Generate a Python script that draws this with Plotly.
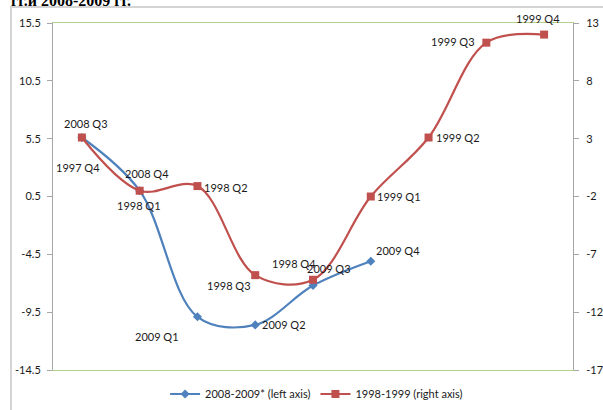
import plotly.graph_objects as go

# ---- data ----
quarters_0809 = ["2008 Q3", "2008 Q4", "2009 Q1", "2009 Q2", "2009 Q3", "2009 Q4"]
values_0809 = [5.6, 1.0, -9.9, -10.6, -7.2, -5.1]

quarters_9899 = ["1997 Q4", "1998 Q1", "1998 Q2", "1998 Q3", "1998 Q4",
                 "1999 Q1", "1999 Q2", "1999 Q3", "1999 Q4"]
values_9899 = [3.1, -1.5, -1.1, -8.8, -9.2, -2.0, 3.1, 11.3, 12.0]

left_ticks = [-14.5, -9.5, -4.5, 0.5, 5.5, 10.5, 15.5]
right_ticks = [-17, -12, -7, -2, 3, 8, 13]

name_0809 = "2008-2009* (left axis)"
name_9899 = "1998-1999 (right axis)"
title_text = "гг.и 2008-2009 гг."

# label offsets (pixels) for data labels
off_0809 = [(4, -14), (7, -17), (-40, 20), (29, 0), (16, -17), (27, -11)]
off_9899 = [(-4, 30), (-1, 15), (29, 1), (-26, 10), (-19, -16),
            (28, 0), (29, 0), (-33, -1), (-6, -16)]

BLUE = "#4F81BD"
RED = "#C0504D"
FONT = "Lato"
TXT = "#1a1a1a"

x_0809 = list(range(len(quarters_0809)))
x_9899 = list(range(len(quarters_9899)))

fig = go.Figure()
fig.add_trace(go.Scatter(
    x=x_0809, y=values_0809, name=name_0809, mode="lines+markers",
    line=dict(color=BLUE, width=2.2, shape="spline", smoothing=1.0),
    marker=dict(symbol="diamond", size=7, color=BLUE),
    yaxis="y", hoverinfo="skip"))
fig.add_trace(go.Scatter(
    x=x_9899, y=values_9899, name=name_9899, mode="lines+markers",
    line=dict(color=RED, width=2.2, shape="spline", smoothing=1.0),
    marker=dict(symbol="square", size=8, color=RED),
    yaxis="y2", hoverinfo="skip"))

annotations = []
for xi, yv, lab, (dx, dy) in zip(x_0809, values_0809, quarters_0809, off_0809):
    annotations.append(dict(x=xi, y=yv, xref="x", yref="y", text=lab,
                            showarrow=False, xshift=dx, yshift=-dy,
                            font=dict(family=FONT, size=11, color=TXT)))
for xi, yv, lab, (dx, dy) in zip(x_9899, values_9899, quarters_9899, off_9899):
    annotations.append(dict(x=xi, y=yv, xref="x", yref="y2", text=lab,
                            showarrow=False, xshift=dx, yshift=-dy,
                            font=dict(family=FONT, size=11, color=TXT)))

# clipped title at top
annotations.append(dict(x=-44 / 520, y=1 + (23 - 11) / 347, xref="paper", yref="paper",
                        xanchor="left", yanchor="bottom", text="<b>" + title_text + "</b>",
                        showarrow=False,
                        font=dict(family="Liberation Serif", size=16, color="#000")))

fig.update_layout(
    width=603, height=410,
    margin=dict(l=53, r=30, t=23, b=40, autoexpand=False),
    paper_bgcolor="white", plot_bgcolor="white",
    showlegend=True,
    legend=dict(orientation="h", x=0.525, xanchor="center", y=16 / 410, yanchor="middle",
                xref="container", yref="container",
                font=dict(family=FONT, size=11, color=TXT), itemwidth=30),
    xaxis=dict(range=[-0.5, len(quarters_9899) - 0.5], showticklabels=False, ticks="",
               showgrid=False, zeroline=False, showline=True, mirror=True,
               linecolor="#b3cf8c", linewidth=1.2, automargin=False),
    yaxis=dict(range=[left_ticks[0], left_ticks[-1]], tickvals=left_ticks,
               ticktext=[f"{v:g}" for v in left_ticks], automargin=False,
               showgrid=False, zeroline=False, showline=True, linecolor="#a6a6a6",
               ticks="outside", ticklen=5, tickcolor="#a6a6a6",
               tickfont=dict(family=FONT, size=11, color=TXT), ticklabelstandoff=4),
    yaxis2=dict(range=[right_ticks[0], right_ticks[-1]], tickvals=right_ticks,
                ticktext=[f"{v:g}" for v in right_ticks], automargin=False,
                overlaying="y", side="right",
                showgrid=False, zeroline=False, showline=True, linecolor="#a6a6a6",
                ticks="outside", ticklen=5, tickcolor="#a6a6a6",
                tickfont=dict(family=FONT, size=11, color=TXT), ticklabelstandoff=5),
    annotations=annotations,
    shapes=[dict(type="rect", xref="paper", yref="paper",
                 x0=(11 - 53) / 520, x1=(620 - 53) / 520,
                 y0=(370 - 430) / 347, y1=1 + (23 - 7) / 347,
                 line=dict(color="#d4d4d4", width=2), layer="above")],
)

fig.write_html("out.html", config={"displayModeBar": False},
               post_script="document.body.style.margin='0px';"
                           "document.body.style.overflow='hidden';")
